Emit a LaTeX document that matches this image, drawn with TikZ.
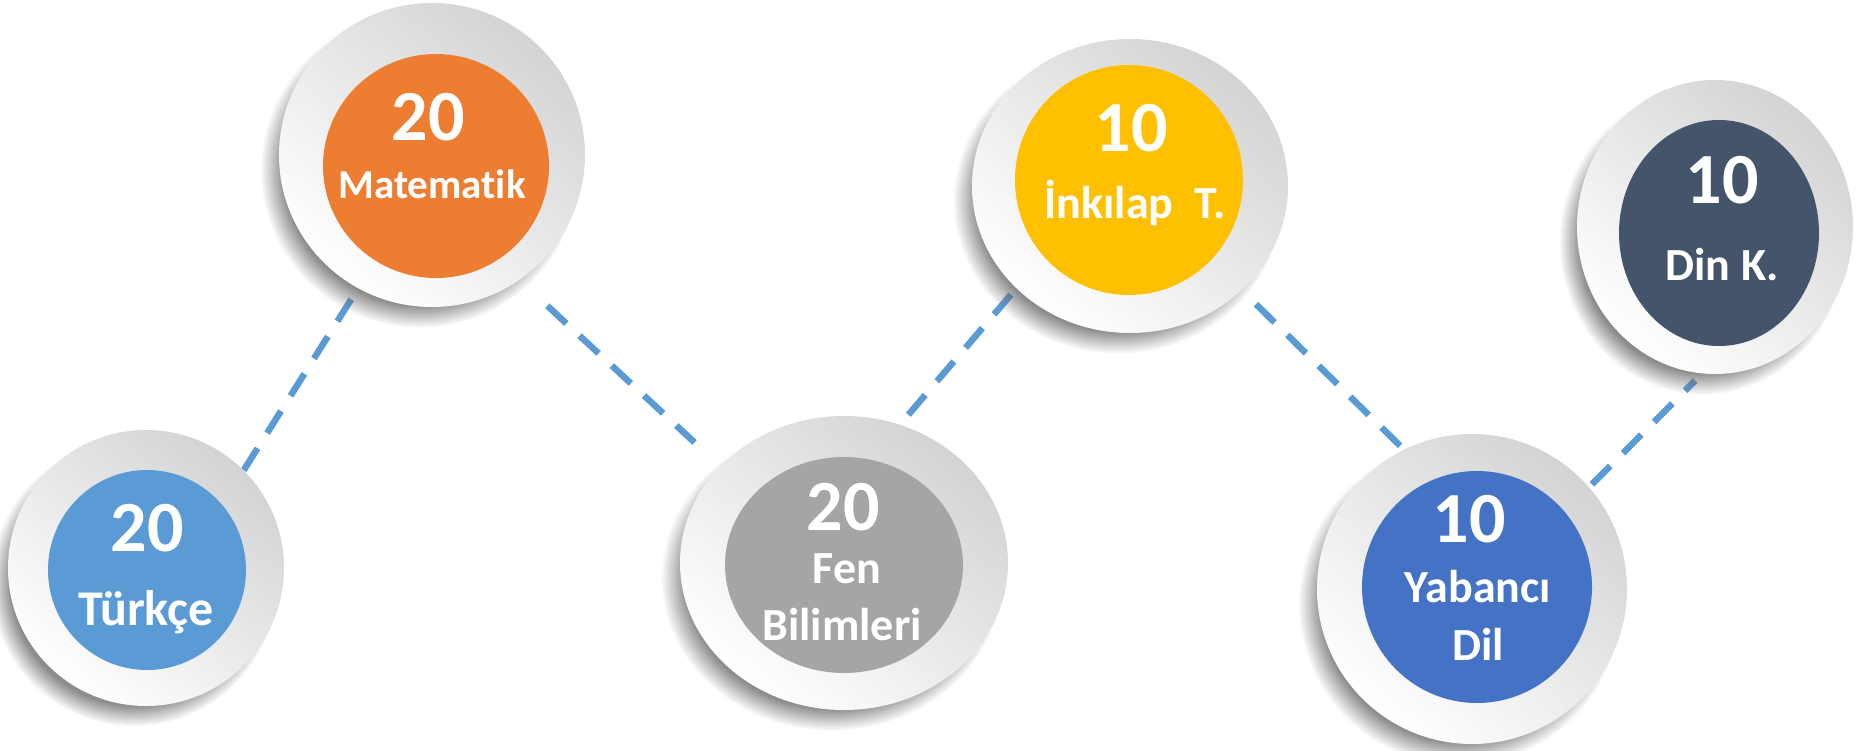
\documentclass[tikz,border=0pt]{standalone}
\usepackage{fontspec}
\setmainfont{Carlito}[Ligatures={NoCommon}]
\usetikzlibrary{shapes.geometric,shadows,backgrounds,fadings}
\definecolor{cTurk}{HTML}{5B9BD5}
\definecolor{cMat}{HTML}{ED7D31}
\definecolor{cFen}{HTML}{A5A5A5}
\definecolor{cInk}{HTML}{FFC000}
\definecolor{cYab}{HTML}{4472C4}
\definecolor{cDin}{HTML}{44546A}
\definecolor{cLine}{HTML}{5B9BD5}
\tikzset{
  plate/.style={ellipse, inner sep=0pt, draw=none, top color=black!17, bottom color=white, shading angle=-40,
    circular drop shadow={shadow xshift=-12pt, shadow yshift=-14pt, shadow scale=1.04, opacity=0.75, fill=black!60}},
  disc/.style={ellipse, inner sep=0pt, draw=none},
  num/.style={text=white, font=\bfseries\fontsize{72}{72}\selectfont, anchor=base, inner sep=0pt},
  lbl/.style={text=white, font=\bfseries\fontsize{46}{46}\selectfont, anchor=base, inner sep=0pt},
  link/.style={draw=cLine, line width=6.5pt, dash pattern=on 26pt off 18pt},
}
\begin{document}
\begin{tikzpicture}[x=1pt,y=-1pt]
\useasboundingbox (0,0) rectangle (1858,750);
% plates
\node[plate, minimum width=276pt, minimum height=276pt] (tk) at (146,568) {};
\node[disc, fill=cTurk, minimum width=198pt, minimum height=200pt] (tkc) at (147,570) {};
\node[plate, minimum width=306pt, minimum height=304pt] (mt) at (432,155) {};
\node[disc, fill=cMat, minimum width=226pt, minimum height=224pt] (mtc) at (436,166) {};
\node[plate, minimum width=328pt, minimum height=294pt] (fn) at (844,563) {};
\node[disc, fill=cFen, minimum width=238pt, minimum height=216pt] (fnc) at (844,565) {};
\node[plate, minimum width=316pt, minimum height=294pt] (ik) at (1130,186) {};
\node[disc, fill=cInk, minimum width=228pt, minimum height=230pt] (ikc) at (1129,180) {};
\node[plate, minimum width=310pt, minimum height=310pt] (yb) at (1472,589) {};
\node[disc, fill=cYab, minimum width=230pt, minimum height=232pt] (ybc) at (1477,587) {};
\node[plate, minimum width=276pt, minimum height=294pt] (dn) at (1715,227) {};
\node[disc, fill=cDin, minimum width=200pt, minimum height=226pt] (dnc) at (1719,233) {};
% texts
\node[num] (tkn) at (147,551.5) {20};
\node[lbl, font=\bfseries\fontsize{50}{50}\selectfont] (tkl) at (146,625) {Türkçe};
\node[num] (mtn) at (428,140.5) {20};
\node[lbl, font=\bfseries\fontsize{41}{41}\selectfont] (mtl) at (432,198) {Matematik};
\node[num] (fnn) at (843,530) {20};
\node[lbl] (fnl) at (847,583) {Fen};
\node[lbl] (fnl2) at (842,640) {Bilimleri};
\node[num] (ikn) at (1131,151) {10};
\node[lbl] (ikl) at (1135,218) {İnkılap\hspace{0.45em}T.};
\node[num] (ybn) at (1469,542) {10};
\node[lbl] (ybl) at (1478,602) {Yabancı};
\node[lbl] (ybl2) at (1478,660) {Dil};
\node[num] (dnn) at (1722,203) {10};
\node[lbl] (dnl) at (1722,280) {Din K.};
% connectors
\begin{pgfonlayer}{background}
\draw[link, shorten >=11pt] (tk.45) -- (mt.241);
\draw[link, shorten <=38pt, shorten >=35pt] (mt.305.6) -- (fn.142);
\draw[link, shorten <=13pt, shorten >=1pt] (fn.68.3) -- (ik.222);
\draw[link, shorten <=20pt, shorten >=4pt] (ik.317) -- (yb.116);
\draw[link, shorten <=4pt, shorten >=10pt] (yb.41.7) -- (dn.265.6);
\end{pgfonlayer}
\end{tikzpicture}
\end{document}
